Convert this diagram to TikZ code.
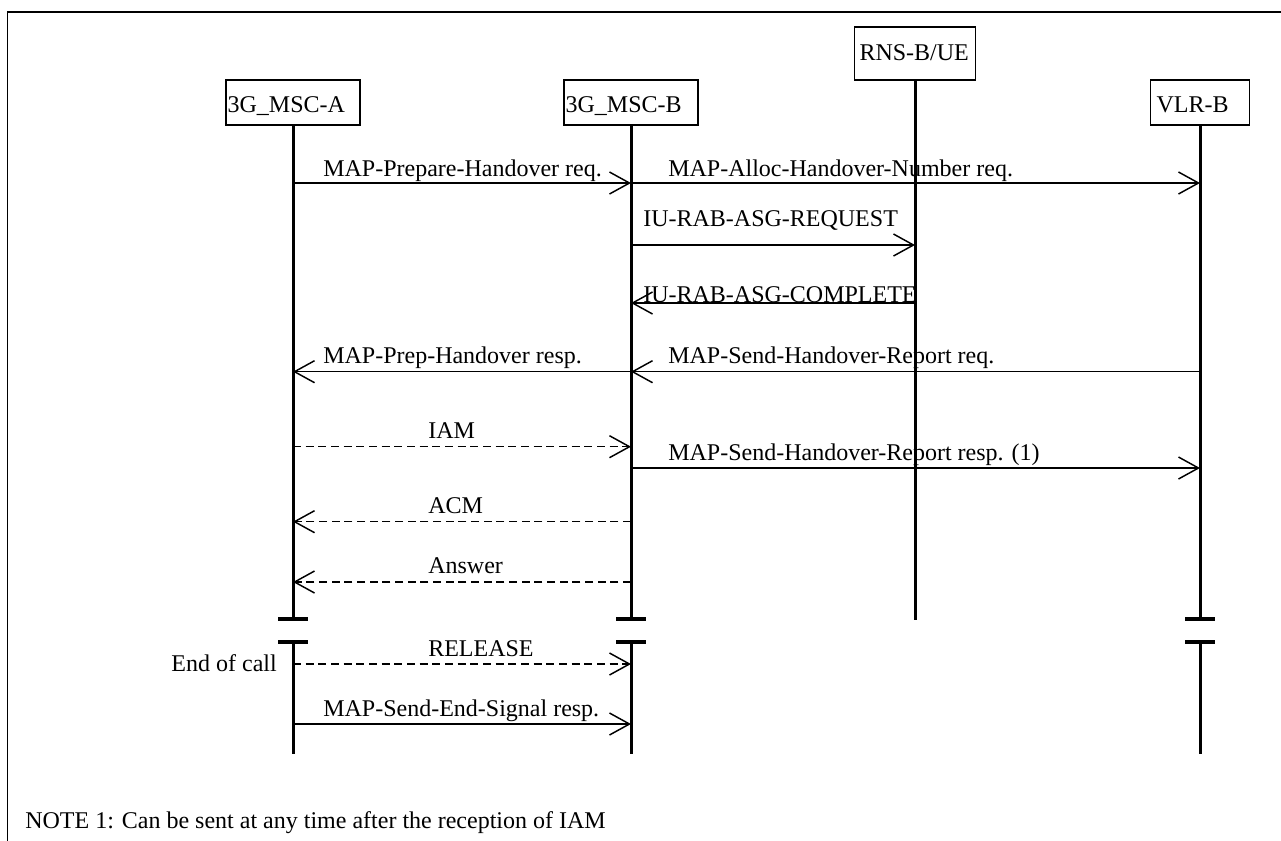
\documentclass[tikz,border=0pt]{standalone}
\usepackage{fontspec}
\setmainfont{Liberation Serif}
\usetikzlibrary{arrows.meta}
\begin{document}
\begin{tikzpicture}[x=0.75pt,y=-0.75pt,
  font=\fontsize{18pt}{21pt}\selectfont,
  entity/.style={draw, line width=1.2pt, inner ysep=0pt, align=left, text depth=0pt, anchor=north},
  life/.style={line width=2.25pt},
  brk/.style={line width=2.6pt},
  msg/.style={line width=1.1pt, -{Straight Barb[length=15pt,width=16.5pt]}},
  dmsg/.style={msg, dash pattern=on 6pt off 3.5pt},
  lbl/.style={inner sep=0pt, anchor=base west}]
\useasboundingbox (0,0) rectangle (1281,840);
\draw[line width=1.2pt] (1400,11.7) -- (7.5,11.7) -- (7.5,900);

% entities
\node[entity, minimum height=33.75pt, text height=15.3pt, inner xsep=1.2pt, text width=98.1pt] (A) at (293,79) {3G\_MSC-A};
\node[entity, minimum height=33.75pt, text height=15.3pt, inner xsep=1.2pt, text width=98.1pt] (B) at (631,79) {3G\_MSC-B};
\node[entity, minimum height=39.75pt, text height=11.25pt, inner xsep=3.75pt, text width=83.25pt] (R) at (915,26) {RNS-B/UE};
\node[entity, minimum height=33.75pt, text height=15.3pt, inner xsep=4.5pt, text width=65.25pt] (V) at (1200,79) {VLR-B};

% lifelines
\draw[life] (A.south) -- (A |- 0,619);
\draw[life] (B.south) -- (B |- 0,619);
\draw[life] (V.south) -- (V |- 0,619);
\draw[life] (R.south) -- (R |- 0,620);
\draw[life] (A |- 0,642) -- (A |- 0,754);
\draw[life] (B |- 0,642) -- (B |- 0,754);
\draw[life] (V |- 0,642) -- (V |- 0,754);
% break marks
\foreach \n in {A,B,V}{
  \draw[brk] (\n |- 0,619) ++(-15,0) -- ++(30,0);
  \draw[brk] (\n |- 0,642) ++(-15,0) -- ++(30,0);
}

% messages
\draw[msg] (A |- 0,183) -- (B |- 0,183);
\node[lbl] (l1) at (323,176) {MAP-Prepare-Handover req.};
\draw[msg] (B |- 0,183) -- (V |- 0,183);
\node[lbl] (l2) at (668,176) {MAP-Alloc-Handover-Number req.};
\draw[msg] (B |- 0,245) -- (R |- 0,245);
\node[lbl] (l3) at (643,226) {IU-RAB-ASG-REQUEST};
\draw[msg] (R |- 0,303) -- (B |- 0,303);
\node[lbl] (l4) at (643,302) {IU-RAB-ASG-COMPLETE};
\draw[msg] (B |- 0,371.7) -- (A |- 0,371.7);
\node[lbl] (l5) at (323,363) {MAP-Prep-Handover resp.};
\draw[msg] (V |- 0,371.7) -- (B |- 0,371.7);
\node[lbl] (l6) at (668,363) {MAP-Send-Handover-Report req.};
\draw[dmsg] (A |- 0,446.7) -- (B |- 0,446.7);
\node[lbl] (l7) at (428,438) {IAM};
\draw[msg] (B |- 0,468) -- (V |- 0,468);
\node[lbl] (l8) at (668,460) {MAP-Send-Handover-Report resp. (1)};
\draw[dmsg] (B |- 0,521.7) -- (A |- 0,521.7);
\node[lbl] (l9) at (428,513) {ACM};
\draw[dmsg] (B |- 0,582) -- (A |- 0,582);
\node[lbl] (l10) at (428,573) {Answer};
\draw[dmsg] (A |- 0,664) -- (B |- 0,664);
\node[lbl] (l11) at (428,656) {RELEASE};
\node[inner sep=0pt, anchor=base east] (eoc) at (277,671) {End of call};
\draw[msg] (A |- 0,724) -- (B |- 0,724);
\node[lbl] (l12) at (323,716) {MAP-Send-End-Signal resp.};

\node[lbl] (note) at (25,828) {NOTE 1: Can be sent at any time after the reception of IAM};
\end{tikzpicture}
\end{document}
